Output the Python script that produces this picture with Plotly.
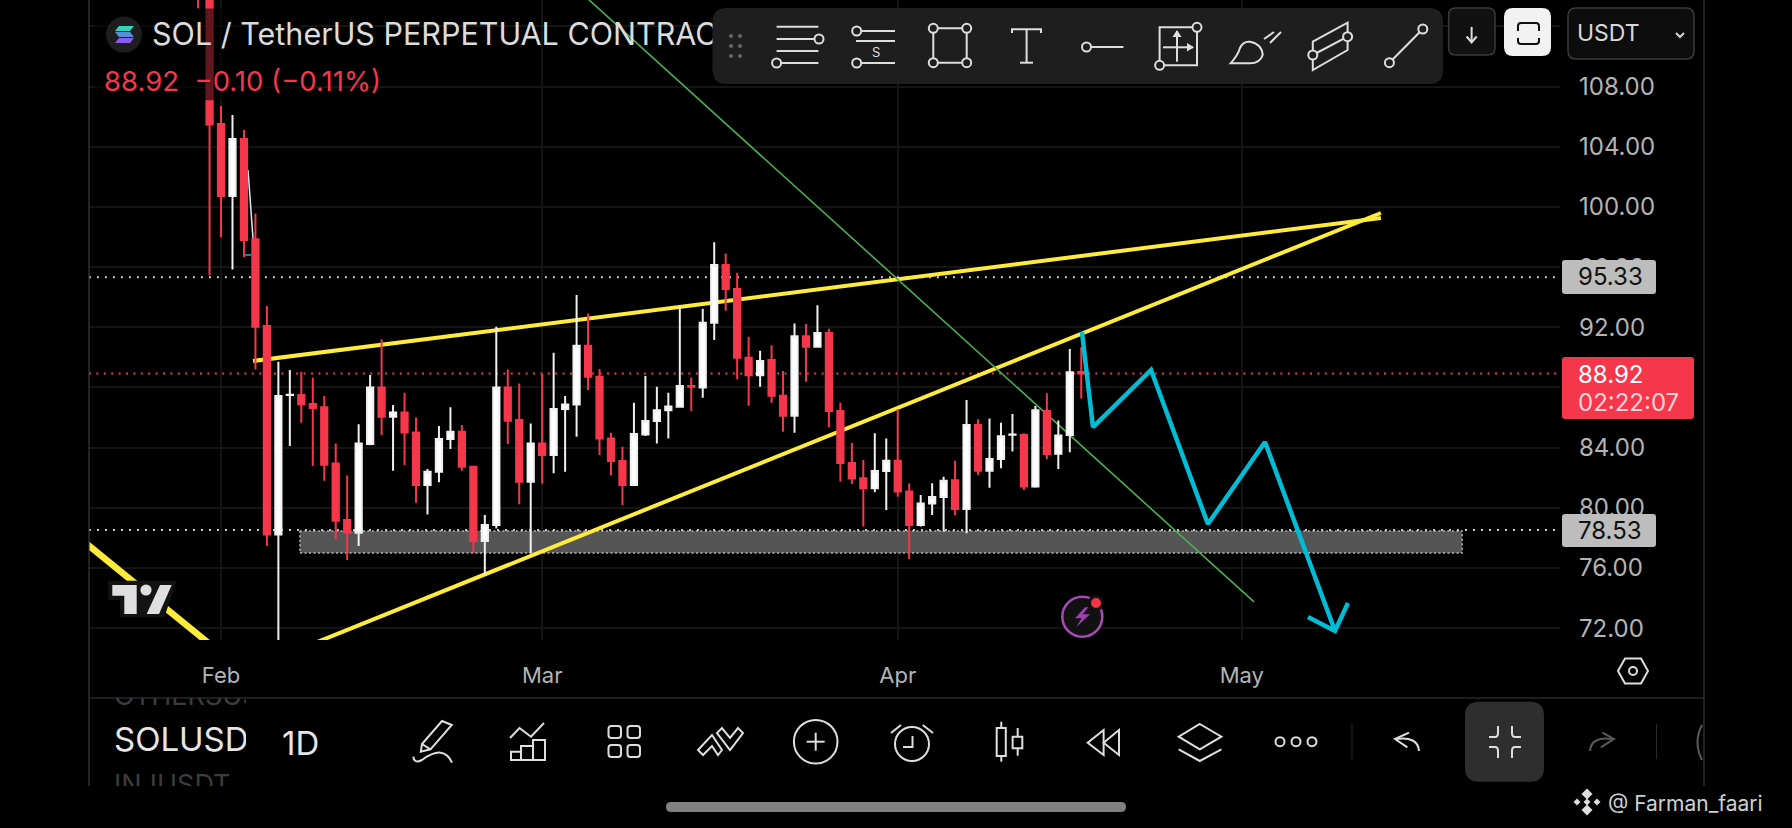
import pandas as pd
import plotly.graph_objects as go

# daily candles, 30 Jan to 17 Apr
opens = [120, 116, 105.51, 100.73, 104.52, 97.85, 92.08, 78.23, 87.5, 87.5,
         86.9, 86.68, 82.95, 79.19, 78.34, 84.24, 88.0, 86.06, 86.34, 85.0,
         81.51, 82.4, 84.57, 85.06, 82.73, 77.79, 78.85, 88.0, 85.83, 81.73,
         84.28, 83.51, 86.56, 86.87, 90.77, 88.71, 84.61, 83.11, 81.51, 84.88,
         85.77, 86.48, 86.72, 88.09, 88.0, 92.3, 96.14, 94.54, 89.98, 88.82,
         89.82, 87.45, 86.12, 91.4, 90.71, 91.62, 86.43, 82.97, 81.96, 81.3,
         82.45, 83.12, 81.08, 78.86, 80.28, 80.72, 81.83, 79.92, 85.51, 82.47,
         83.25, 84.85, 84.84, 81.41, 86.44, 83.6, 84.84, 89.02]
highs = [121, 116.5, 106.71, 106.11, 105.12, 99.57, 93.41, 89.71, 89.16, 89.05,
         88.67, 87.43, 84.28, 82.15, 85.55, 88.83, 91.2, 86.83, 87.65, 86.01,
         82.58, 85.43, 86.68, 85.5, 82.77, 79.52, 92.04, 89.2, 88.27, 85.61,
         88.89, 90.31, 87.43, 94.14, 92.92, 89.22, 84.99, 84.06, 86.98, 88.76,
         88.05, 87.65, 93.37, 88.67, 93.23, 97.65, 96.91, 95.63, 91.37, 90.44,
         90.8, 89.09, 92.26, 92.22, 93.46, 91.9, 86.98, 84.33, 83.18, 84.95,
         84.6, 86.55, 81.63, 80.85, 81.63, 82.07, 83.12, 87.17, 85.89, 85.93,
         85.66, 86.24, 84.95, 86.77, 87.61, 85.8, 90.56, 90.67]
lows = [113.2, 95.45, 97.98, 95.85, 96.65, 89.2, 77.46, 70.5, 84.1, 85.66,
        82.77, 81.8, 77.9, 76.53, 77.46, 84.15, 84.84, 82.46, 82.84, 80.34,
        79.56, 81.69, 83.91, 82.46, 77.03, 75.57, 78.63, 84.24, 80.23, 76.97,
        81.62, 82.29, 82.4, 84.72, 87.83, 83.51, 82.17, 80.18, 81.47, 84.77,
        84.28, 84.61, 86.65, 86.43, 87.32, 91.15, 93.1, 88.54, 86.79, 88.05,
        86.98, 85.06, 84.99, 88.38, 90.64, 85.37, 81.73, 81.58, 78.75, 81.03,
        79.86, 80.74, 76.6, 78.75, 79.52, 78.42, 79.52, 78.31, 82.18, 81.34,
        82.63, 83.74, 81.19, 81.34, 83.25, 82.58, 83.69, 87.26]
closes = [116, 105.49, 100.73, 104.52, 97.8, 92.04, 78.23, 87.43, 87.52, 86.88,
          86.63, 82.86, 79.14, 78.34, 84.28, 88.0, 86.06, 86.34, 85.0, 81.51,
          82.4, 84.57, 85.06, 82.73, 77.79, 78.85, 88.0, 85.79, 81.73, 84.28,
          83.51, 86.56, 86.87, 90.77, 88.71, 84.61, 83.11, 81.51, 84.9, 85.77,
          86.48, 86.74, 88.09, 88.05, 92.3, 96.14, 94.54, 89.98, 88.82, 89.76,
          87.45, 86.12, 91.4, 90.71, 91.62, 86.43, 82.97, 81.95, 81.3, 82.45,
          83.12, 81.08, 78.86, 80.28, 80.72, 81.79, 79.92, 85.51, 82.47, 83.25,
          84.76, 84.88, 81.41, 86.48, 83.58, 84.8, 89.01, 88.92]
dates = pd.date_range("2026-01-30", periods=len(opens))

# 88 and 112 sit behind the price tag and the USDT box, only their grid lines show
price_ticks = [72, 76, 80, 84, 88, 92, 96, 100, 104, 108, 112]
price_labels = ["72.00", "76.00", "80.00", "84.00", "", "92.00", "96.00",
                "100.00", "104.00", "108.00", ""]
month_ticks = ["2026-02-01", "2026-03-01", "2026-04-01", "2026-05-01"]
month_labels = ["Feb", "Mar", "Apr", "May"]

x_range = ["2026-01-20 11:45", "2026-05-28 17:45"]
y_range = [71.21, 113.76]

# drawings on the chart
wedge_top_x = ["2026-02-03 19:00", "2026-05-13 03:00"]
wedge_top_y = [89.76, 99.27]
wedge_low_x = ["2026-02-07 21:00", "2026-05-13 03:00"]
wedge_low_y = [70.61, 99.60]
old_line_x = ["2026-01-19 06:30", "2026-01-31 22:00"]
old_line_y = [78.23, 70.38]
green_x = ["2026-03-04 03:00", "2026-05-02 01:30"]
green_y = [114.43, 73.74]
path_x = ["2026-04-17 01:30", "2026-04-18 00:30", "2026-04-23 02:00", "2026-04-28 01:00",
          "2026-05-03 00:30", "2026-05-09 03:00", "2026-05-06 18:30", "2026-05-09 03:00",
          "2026-05-10 06:00"]
path_y = [91.69, 85.37, 89.16, 78.92, 84.37, 71.81, 72.74, 71.81, 73.67]
sliver_x = ["2026-02-03 08:30", "2026-02-03 19:00"]
sliver_y = [102.46, 97.87]
tick_x = ["2026-02-03 02:00", "2026-02-03 15:00"]
tick_y = [96.81, 96.81]
zone_x = ["2026-02-07 21:00", "2026-05-20 05:00", "2026-05-20 05:00", "2026-02-07 21:00", "2026-02-07 21:00"]
zone_y = [78.46, 78.46, 76.99, 76.99, 78.46]
dim_x = ["2026-01-21", "2026-02-08", "2026-02-08", "2026-01-21"]
dim_y = [113.2, 113.2, 107.1, 107.1]
last_price = 88.92
high_level = 95.33
low_level = 78.53

RED = "#f5374b"
CYAN = "#00bcd4"
YELLOW = "#ffeb3b"
GREEN = "#4caf50"
ICON = "#dedede"
PANEL = "#1e1e1e"
AXIS_TEXT = "#b4b4b4"
FONT = "Inter"

shapes = []
notes = []


def scr(path):
    # path written in screen pixels -> paper coordinates
    out = []
    is_x = True
    for tok in path.split():
        if tok.isalpha():
            out.append(tok)
            is_x = True
        elif is_x:
            out.append(str(round(float(tok) / 1792, 5)))
            is_x = False
        else:
            out.append(str(round(1 - float(tok) / 828, 5)))
            is_x = True
    return " ".join(out).replace(" M ", "M").replace(" L ", "L")


def draw(path, width=2, color=ICON, fill=None):
    shapes.append(dict(type="path", path=scr(path), xref="paper", yref="paper", layer="above",
                       line=dict(color=color, width=width), fillcolor=fill or "rgba(0,0,0,0)"))


def solid(path, fill):
    shapes.append(dict(type="path", path=scr(path), xref="paper", yref="paper", layer="above",
                       line=dict(width=0), fillcolor=fill))


def ring(cx, cy, r, width=2, color=ICON, fill=None):
    shapes.append(dict(type="circle", xref="paper", yref="paper", layer="above",
                       x0=(cx - r) / 1792, x1=(cx + r) / 1792,
                       y0=1 - (cy + r) / 828, y1=1 - (cy - r) / 828,
                       line=dict(color=color, width=width), fillcolor=fill or "rgba(0,0,0,0)"))


def rrect(x0, y0, x1, y1, r):
    return (f"M {x0 + r} {y0} L {x1 - r} {y0} Q {x1} {y0} {x1} {y0 + r} L {x1} {y1 - r} "
            f"Q {x1} {y1} {x1 - r} {y1} L {x0 + r} {y1} Q {x0} {y1} {x0} {y1 - r} "
            f"L {x0} {y0 + r} Q {x0} {y0} {x0 + r} {y0} Z")


def note(x, y, text, size, color, anchor="left"):
    notes.append(dict(x=x / 1792, y=1 - y / 828, xref="paper", yref="paper", text=text, showarrow=False,
                      xanchor=anchor, yanchor="middle", font=dict(family=FONT, size=size, color=color)))


fig = go.Figure()

# under the candles
fig.add_trace(go.Scatter(x=zone_x, y=zone_y, mode="lines", fill="toself", fillcolor="#555555",
                         line=dict(color="#b8b8b8", width=1.5, dash="2px,2.5px"),
                         hoverinfo="skip", showlegend=False))
for xs, ys, col, w, dash in [
    (x_range, [high_level, high_level], "#c8c8c8", 2, "2px,6px"),
    (x_range, [low_level, low_level], "#c8c8c8", 2, "2px,6px"),
    (x_range, [last_price, last_price], RED, 2, "2px,5.4px"),
    (wedge_top_x, wedge_top_y, YELLOW, 4, "solid"),
    (wedge_low_x, wedge_low_y, YELLOW, 4, "solid"),
    (old_line_x, old_line_y, YELLOW, 6.5, "solid"),
    (green_x, green_y, GREEN, 1.6, "solid"),
    (sliver_x, sliver_y, "#d8eef0", 1.5, "solid"),
    (tick_x, tick_y, CYAN, 1.5, "solid"),
]:
    fig.add_trace(go.Scatter(x=xs, y=ys, mode="lines", line=dict(color=col, width=w, dash=dash),
                             hoverinfo="skip", showlegend=False))

fig.add_trace(go.Candlestick(x=dates, open=opens, high=highs, low=lows, close=closes,
                             xaxis="x2", yaxis="y2", whiskerwidth=0, hoverinfo="skip", showlegend=False,
                             increasing=dict(line=dict(color="#f0f0f0", width=2), fillcolor="#ffffff"),
                             decreasing=dict(line=dict(color=RED, width=2), fillcolor=RED)))
fig.add_trace(go.Scatter(x=path_x, y=path_y, xaxis="x2", yaxis="y2", mode="lines",
                         line=dict(color=CYAN, width=4.5), hoverinfo="skip", showlegend=False))
fig.add_trace(go.Scatter(x=dim_x, y=dim_y, xaxis="x2", yaxis="y2", mode="lines", fill="toself",
                         fillcolor="rgba(0,0,0,0.6)", line=dict(width=0), hoverinfo="skip", showlegend=False))

# text that gets cut by its own small axes
fig.add_trace(go.Scatter(x=[114, 114, 114], y=[743, 698, 787], xaxis="x3", yaxis="y3", mode="text",
                         text=["SOLUSDT", "OTHERSUSDT", "INJUSDT"], textposition="middle right",
                         textfont=dict(family=FONT, size=[33, 27, 27], color=["#e6e6e6", "#3c3c3c", "#3c3c3c"]),
                         hoverinfo="skip", showlegend=False))
fig.add_trace(go.Scatter(x=[152], y=[37], xaxis="x4", yaxis="y4", mode="text",
                         text=["SOL / TetherUS PERPETUAL CONTRACT"], textposition="middle right",
                         textfont=dict(family=FONT, size=30.5, color="#dcdcdc"),
                         hoverinfo="skip", showlegend=False))

# frame
draw("M 89 0 L 89 786", 1.2, "#3a3a3a")
draw("M 1704 0 L 1704 786", 1.2, "#3a3a3a")
draw("M 89 698 L 1704 698", 1.2, "#3a3a3a")

# symbol and price line
ring(124, 34.5, 18, 0, PANEL, PANEL)
solid("M 119 26 L 134 26 L 130 31 L 115 31 Z", "#2fd6b8")
solid("M 115 32 L 130 32 L 134 37 L 119 37 Z", "#5a8fd8")
solid("M 119 38 L 134 38 L 130 43 L 115 43 Z", "#8a5cf0")
note(102, 81, "88.92  −0.10 (−0.11%)", 27.5, RED)

# top drawing toolbar
solid(rrect(712.5, 8, 1443, 84, 14), PANEL)
for dx in (731, 740):
    for dy in (36, 46, 56):
        ring(dx, dy, 2, 0, "#666666", "#666666")
draw("M 776.6 26.7 L 818.4 26.7")
draw("M 776.6 39 L 815 39")
ring(819, 39, 4.5, 2, ICON, PANEL)
draw("M 776.6 51 L 818.4 51")
draw("M 781 63 L 818.4 63")
ring(776.6, 63, 4.5, 2, ICON, PANEL)
draw("M 861 31 L 895 31")
ring(856.7, 31, 4.5, 2, ICON, PANEL)
draw("M 856 41 L 895 41")
note(875.5, 52, "S", 13, ICON, "center")
draw("M 861 63 L 895 63")
ring(856.7, 63, 4.5, 2, ICON, PANEL)
draw("M 933.3 28.3 L 966.7 28.3 L 966.7 62.7 L 933.3 62.7 Z")
for cx, cy in [(933.3, 28.3), (966.7, 28.3), (933.3, 62.7), (966.7, 62.7)]:
    ring(cx, cy, 4.5, 2, ICON, PANEL)
draw("M 1012 33 L 1012 29.3 L 1041 29.3 L 1041 33")
draw("M 1026.6 29.3 L 1026.6 62.7")
draw("M 1020 62.7 L 1033 62.7")
ring(1086.5, 47, 4.5, 2, ICON, PANEL)
draw("M 1091 47 L 1123.4 47")
draw("M 1159.6 27.3 L 1197 27.3 L 1197 65.3 L 1159.6 65.3 Z")
ring(1197, 27.3, 4.5, 2, ICON, PANEL)
ring(1159.6, 65.3, 4.5, 2, ICON, PANEL)
draw("M 1177 31 L 1177 61.7")
draw("M 1163 47.3 L 1193 47.3")
solid("M 1177 30 L 1181.5 37 L 1172.5 37 Z", ICON)
solid("M 1194 47.3 L 1187 43 L 1187 51.6 Z", ICON)
draw("M 1230.6 63.3 Q 1238 55 1240 48 Q 1243 41 1250 41.7 Q 1262 44 1262.7 55 Q 1260 63.3 1250 63.3 Z")
draw("M 1264 39 L 1274 32")
draw("M 1281 32 L 1270 43")
draw("M 1312.8 41.7 L 1347.6 22.7 L 1347.6 50 L 1312.8 70 Z")
draw("M 1312.8 55 L 1347.6 36.7")
ring(1312.8, 55, 4.5, 2, ICON, PANEL)
ring(1347.6, 36.7, 4.5, 2, ICON, PANEL)
draw("M 1422.8 29 L 1389.4 62.7")
ring(1422.8, 29, 4.5, 2, ICON, PANEL)
ring(1389.4, 62.7, 4.5, 2, ICON, PANEL)

# top right buttons
draw(rrect(1448.6, 8, 1495, 55, 7), 1.5, "#3a3a3a", "#111111")
draw("M 1471.6 27 L 1471.6 42")
draw("M 1466.6 36.5 L 1471.6 42.5 L 1476.6 36.5")
solid(rrect(1504, 8, 1551, 56, 9), "#f2f2f2")
draw("M 1518 31 L 1518 26 Q 1518 23 1521 23 L 1536 23 Q 1539 23 1539 26 L 1539 31", 2, "#111111")
draw("M 1518 38 L 1518 41 Q 1518 44 1521 44 L 1536 44 Q 1539 44 1539 41 L 1539 38", 2, "#111111")
draw(rrect(1568, 8, 1694, 59, 8), 1.5, "#3a3a3a", "#0d0d0d")
note(1575, 33, "USDT", 23, "#d8d8d8")
draw("M 1676 33 L 1680 37 L 1684 33", 2, "#d8d8d8")

# price labels
solid(rrect(1562, 260, 1656, 294, 3), "#bdbdbd")
note(1576, 277, "95.33", 24, "#111111")
solid(rrect(1562, 514, 1656, 547, 3), "#bdbdbd")
note(1576, 530.5, "78.53", 24, "#111111")
solid(rrect(1562, 357, 1694, 419, 3), RED)
note(1576, 374, "88.92", 24, "#ffffff")
note(1576, 403, "02:22:07", 24, "#ffd5da")

# tradingview logo
solid("M 108.3 580.7 L 176.7 580.7 L 164.3 617.3 L 120 617.3 L 120 600 L 108.3 600 Z", "#131313")
solid("M 112.3 585 L 136.7 585 L 136.7 614 L 124.3 614 L 124.3 595.7 L 112.3 595.7 Z", "#e0e0e0")
ring(146, 590, 5.6, 0, "#e0e0e0", "#e0e0e0")
solid("M 160 585 L 171.7 585 L 159 614 L 146.7 614 Z", "#e0e0e0")

# lightning badge
ring(1082.3, 616.7, 20, 2.5, "#a84bb8", "#111111")
ring(1096, 603, 8, 0, "#111111", "#111111")
ring(1096, 603, 5, 0, "#f23645", "#f23645")
solid("M 1085 607.3 L 1075 618.3 L 1081.7 618.3 L 1076 627.3 L 1090 614.3 L 1082.7 614.3 L 1088.3 607.3 Z", "#a040b0")

# settings hexagon
draw("M 1618 671 L 1625 658.5 L 1641 658.5 L 1648 671 L 1641 683.5 L 1625 683.5 Z", 2)
ring(1633, 671, 4, 2)

# bottom toolbar
note(280, 743, "1D", 33, "#e6e6e6")
draw("M 442 721 L 451.8 725 L 430.5 749.3 L 420.8 751.7 L 422 744 Z")
draw("M 422 744 L 430.5 749.3")
draw("M 413.3 756.7 Q 414 764 422 760 Q 444 744 452 762.7")
draw("M 511 760 L 511 751.7 L 521 751.7 L 521 746 L 533 746 L 533 740 L 545 740 L 545 760 Z")
draw("M 521 751.7 L 521 760")
draw("M 533 746 L 533 760")
draw("M 510 738 L 519.5 728 L 531 736.7 L 544 723")
for qx in (608.5, 627.5):
    for qy in (726, 745):
        draw(rrect(qx, qy, qx + 12.5, qy + 12, 3))
draw("M 698 750 L 712 735 L 722 750 L 718 755 L 712 746 L 703 755 Z")
draw("M 722 728 L 730 738 L 738 728 L 743 733 L 730 750 L 717 733 Z")
ring(815.7, 741.7, 21.8)
draw("M 806.7 741.7 L 824.7 741.7")
draw("M 815.7 732.7 L 815.7 750.7")
ring(912, 744, 17)
draw("M 912.5 736 L 912.5 747 L 903 747")
draw("M 922.7 725 L 933 733")
draw("M 891 733 L 901 725")
draw("M 996.7 728 L 1005.8 728 L 1005.8 756 L 996.7 756 Z")
draw("M 1001.3 721.7 L 1001.3 728")
draw("M 1001.3 756 L 1001.3 761.7")
draw("M 1012.6 736.7 L 1022.3 736.7 L 1022.3 748.3 L 1012.6 748.3 Z")
draw("M 1017.7 728 L 1017.7 736.7")
draw("M 1017.7 748.3 L 1017.7 755.7")
draw("M 1103.6 730 L 1087.7 742.7 L 1103.6 755 Z")
draw("M 1119 730 L 1103.6 742.7 L 1119 755 Z")
draw("M 1199.8 724 L 1221.4 736.7 L 1199.8 749.3 L 1178.7 736.7 Z")
draw("M 1178.7 749.3 L 1199.8 761 L 1221.4 749.3")
for dx in (1280, 1296, 1312):
    ring(dx, 741.7, 4.5)
draw("M 1352 724 L 1352 759", 1, "#2a2a2a")
draw("M 1409 732.7 L 1395 739 L 1407.4 747.3")
draw("M 1396 739 Q 1418 736 1419 751")
solid(rrect(1465, 701.7, 1544, 781.7, 14), "#2e2e2e")
draw("M 1489 737 L 1495 737 Q 1498 737 1498 733 L 1498 726")
draw("M 1521 737 L 1515 737 Q 1512 737 1512 733 L 1512 726")
draw("M 1489 747 L 1495 747 Q 1498 747 1498 751 L 1498 758")
draw("M 1521 747 L 1515 747 Q 1512 747 1512 751 L 1512 758")
draw("M 1602.5 732.7 L 1613.9 739 L 1600.8 747.3", 2, "#5a5a5a")
draw("M 1613 739 Q 1591 736 1590 751", 2, "#5a5a5a")
draw("M 1656.5 724 L 1656.5 759", 1, "#2a2a2a")
draw("M 1702 725 Q 1693 742 1702 760", 2, "#5a5a5a")

# home bar and watermark
solid(rrect(666, 802, 1126, 812, 5), "#808080")
for cx, cy, r in [(1587, 794, 5.5), (1587, 810, 5.5), (1577, 802, 3.5), (1597, 802, 3.5), (1587, 802, 3.5)]:
    solid(f"M {cx} {cy - r} L {cx + r} {cy} L {cx} {cy + r} L {cx - r} {cy} Z", "#dddddd")
note(1606, 803, "@ Farman_faari", 21, "#d0d0d0")

fig.update_layout(
    width=1792, height=828, autosize=False,
    margin=dict(l=0, r=0, t=0, b=0),
    paper_bgcolor="#000000", plot_bgcolor="rgba(0,0,0,0)",
    boxgap=0.22, showlegend=False, shapes=shapes, annotations=notes,
    font=dict(family=FONT),
    xaxis=dict(domain=[89 / 1792, 1560 / 1792], anchor="y", type="date", range=x_range, automargin=False,
               tickmode="array", tickvals=month_ticks, ticktext=month_labels, ticks="",
               ticklabelstandoff=20, tickfont=dict(family=FONT, size=22, color=AXIS_TEXT),
               showgrid=True, gridcolor="#141414", gridwidth=1.5, showline=False, zeroline=False,
               rangeslider=dict(visible=False)),
    yaxis=dict(domain=[188 / 828, 1], anchor="x", side="right", range=y_range, automargin=False,
               tickmode="array", tickvals=price_ticks, ticktext=price_labels, ticks="",
               ticklabelstandoff=18, tickfont=dict(family=FONT, size=24, color=AXIS_TEXT),
               showgrid=True, gridcolor="#141414", gridwidth=1.5, showline=False, zeroline=False),
    xaxis2=dict(overlaying="x", anchor="y2", type="date", range=x_range, visible=False, automargin=False,
                rangeslider=dict(visible=False)),
    yaxis2=dict(overlaying="y", anchor="x2", range=y_range, visible=False, automargin=False),
    xaxis3=dict(domain=[110 / 1792, 246 / 1792], anchor="y3", range=[110, 246], visible=False, automargin=False),
    yaxis3=dict(domain=[42 / 828, 130 / 828], anchor="x3", range=[786, 698], visible=False, automargin=False),
    xaxis4=dict(domain=[150 / 1792, 713 / 1792], anchor="y4", range=[150, 713], visible=False, automargin=False),
    yaxis4=dict(domain=[770 / 828, 822 / 828], anchor="x4", range=[58, 6], visible=False, automargin=False),
)

fig.write_html("out.html", config={"displayModeBar": False},
               post_script="document.body.style.margin='0';document.body.style.background='#000';")
